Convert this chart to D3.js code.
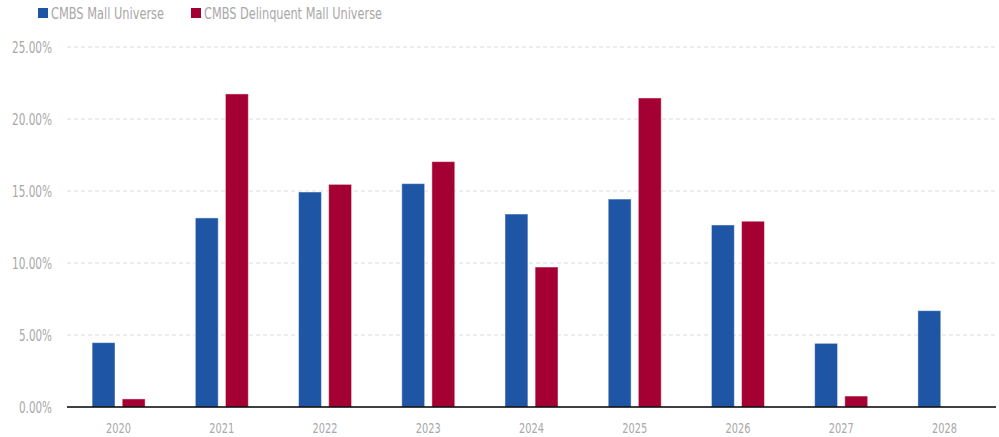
<!DOCTYPE html>
<html><head><meta charset="utf-8">
<script src="https://cdn.jsdelivr.net/npm/d3@7"></script>
<style>
body{margin:0;background:#fff;}
text{font-family:"DejaVu Sans Condensed","Liberation Sans Narrow","Roboto",sans-serif;}
</style></head>
<body><svg id="c" width="999" height="437"></svg>
<script>
const categories = ["2020","2021","2022","2023","2024","2025","2026","2027","2028"];
const seriesNames = ["CMBS Mall Universe","CMBS Delinquent Mall Universe"];
const mallUniverse = [4.47,13.13,14.93,15.51,13.40,14.44,12.64,4.42,6.69];
const delinquentUniverse = [0.56,21.74,15.46,17.04,9.72,21.46,12.90,0.76,null];
const yTicks = [0,5,10,15,20,25];
const colors = ["#1f55a5","#a50034"];

const svg = d3.select("#c");
const m = {l:67,r:3,t:47,b:30};
const W = 999, H = 437;
const x = d3.scaleBand().domain(categories).range([m.l, W-m.r]).paddingInner(0).paddingOuter(0);
const y = d3.scaleLinear().domain([0,25]).range([H-m.b, m.t]);
const x1 = d3.scaleBand().domain([0,1]).range([x.bandwidth()/2-26.5, x.bandwidth()/2+26.5]).paddingInner(0.24);

// grid
svg.append("g").selectAll("line").data(yTicks.filter(d=>d>0)).join("line")
  .attr("x1",m.l).attr("x2",W-m.r).attr("y1",d=>y(d)).attr("y2",d=>y(d))
  .attr("stroke","#dcdcdc").attr("stroke-width",1).attr("stroke-dasharray","4,3");

// y labels
svg.append("g").selectAll("text").data(yTicks).join("text")
  .attr("x",52).attr("y",d=>y(d)).attr("dy","0.37em").attr("text-anchor","end")
  .attr("font-size",15).attr("fill","#a8a8a8")
  .attr("textLength",d=>d<10?33:40).attr("lengthAdjust","spacingAndGlyphs")
  .text(d=>d3.format(".2f")(d)+"%");

// bars
const series = [mallUniverse, delinquentUniverse];
series.forEach((vals,si)=>{
  svg.append("g").selectAll("rect").data(vals.map((v,i)=>({v,c:categories[i]})).filter(d=>d.v!=null)).join("rect")
    .attr("x",d=>x(d.c)+x1(si)).attr("width",x1.bandwidth())
    .attr("y",d=>y(d.v)).attr("height",d=>y(0)-y(d.v))
    .attr("fill",colors[si]).attr("stroke","rgba(255,255,255,0.45)").attr("stroke-width",1);
});

// baseline
svg.append("line").attr("x1",m.l).attr("x2",W-m.r).attr("y1",y(0)).attr("y2",y(0))
  .attr("stroke","#000").attr("stroke-width",1.5);

// x labels
svg.append("g").selectAll("text").data(categories).join("text")
  .attr("x",d=>x(d)+x.bandwidth()/2).attr("y",432.5).attr("text-anchor","middle")
  .attr("font-size",14).attr("fill","#a8a8a8")
  .attr("textLength",25).attr("lengthAdjust","spacingAndGlyphs").text(d=>d);

// legend
const lx = [38,191];
const lw = [113,178];
seriesNames.forEach((n,i)=>{
  svg.append("rect").attr("x",lx[i]).attr("y",8).attr("width",10).attr("height",10).attr("fill",colors[i]);
  svg.append("text").attr("x",lx[i]+13).attr("y",18.5).attr("font-size",15).attr("fill","#a8a8a8")
    .attr("textLength",lw[i]).attr("lengthAdjust","spacingAndGlyphs").text(n);
});
</script></body></html>
